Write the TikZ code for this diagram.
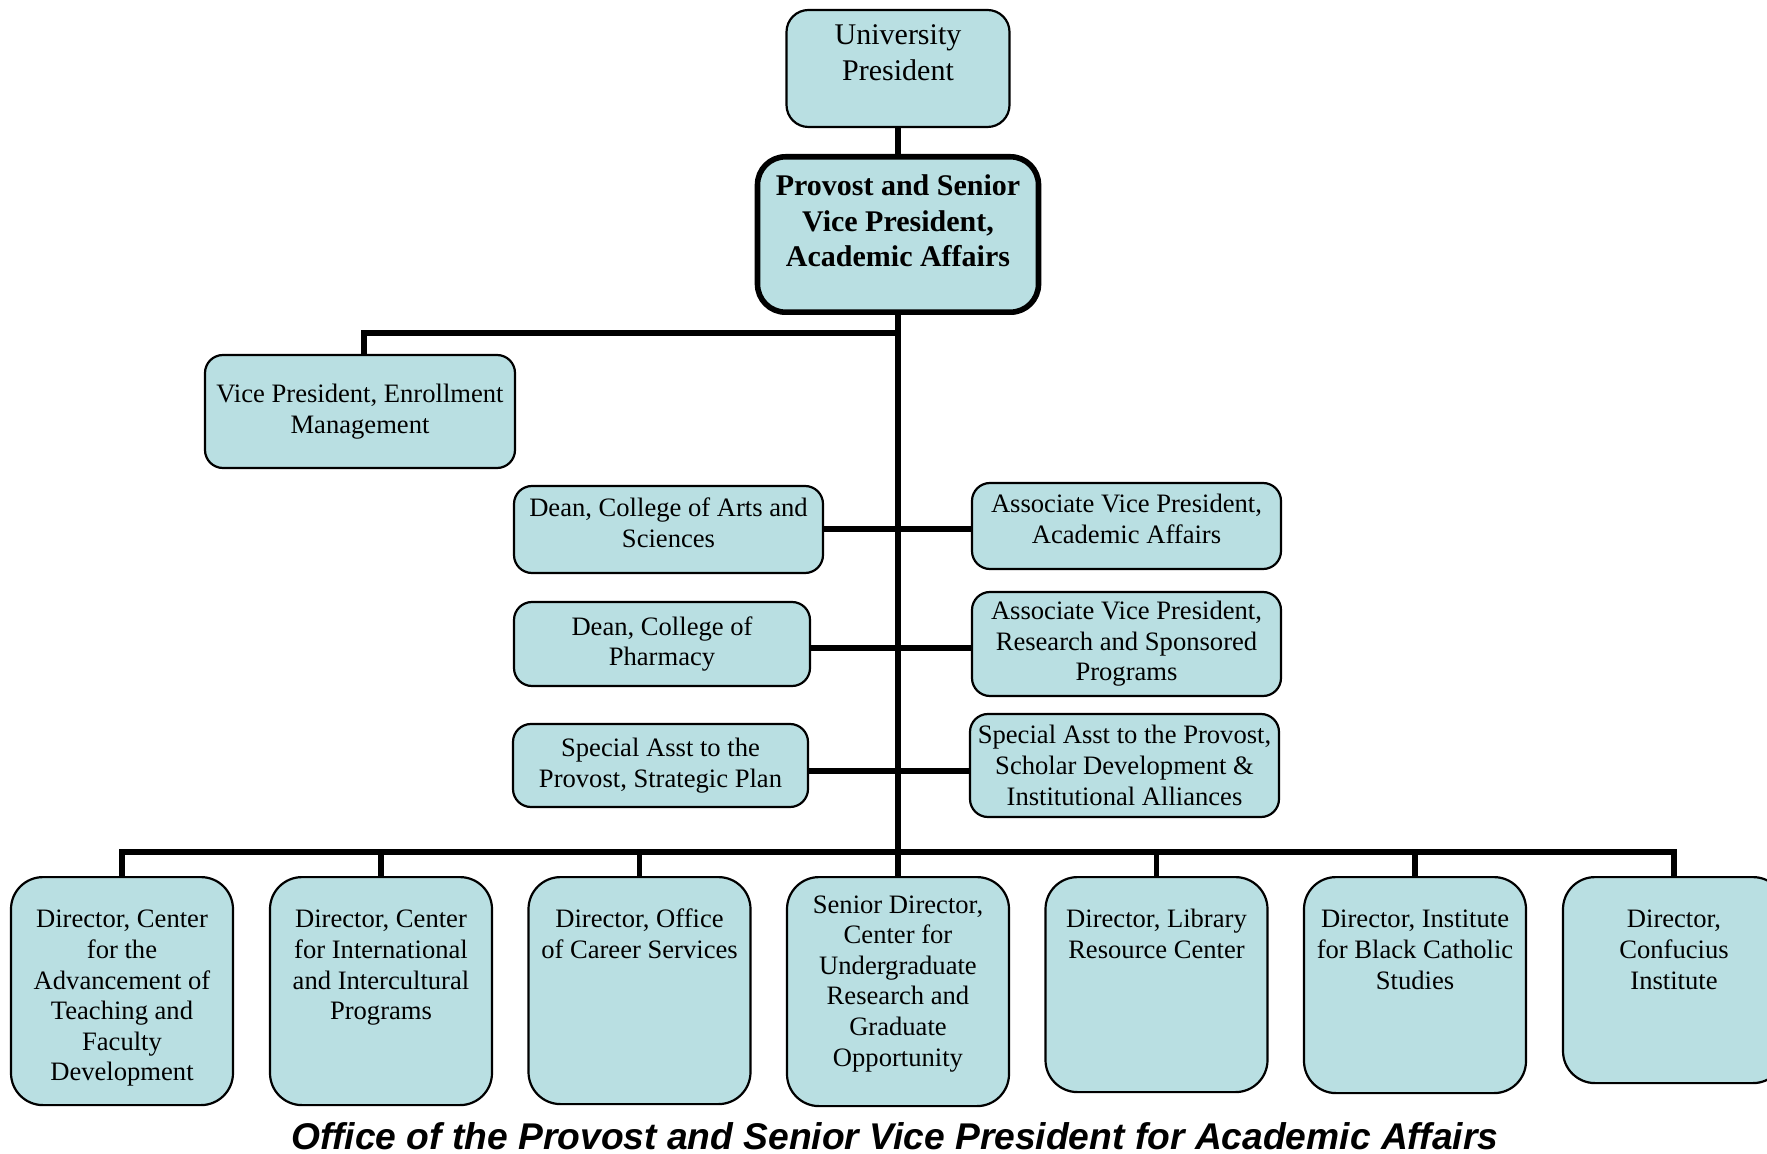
\documentclass[tikz,border=0pt]{standalone}
\usepackage{fontspec}
\setmainfont{Liberation Serif}
\newfontfamily\titlefont{Liberation Sans}
\definecolor{boxfill}{RGB}{185,223,226}
\newcommand{\tbox}[4]{\parbox[c][#1][t]{#2}{\centering\rule{0pt}{#3}#4\par}}
\newcommand{\lift}{\rule[-7pt]{0pt}{7pt}}
\tikzset{
  unit/.style={draw=black, fill=boxfill, line width=1.1pt, inner sep=0pt},
  topbox/.style={unit, rounded corners=11pt, font=\fontsize{15}{18}\selectfont},
  provbox/.style={unit, line width=2.8pt, rounded corners=14pt, font=\bfseries\fontsize{15}{17.75}\selectfont},
  midbox/.style={unit, rounded corners=9pt, align=center, font=\fontsize{13.3}{15.3}\selectfont},
  lowbox/.style={unit, rounded corners=16pt, anchor=north, font=\fontsize{13.3}{15.3}\selectfont},
  link/.style={line width=2.9pt},
  titletext/.style={font=\titlefont\bfseries\itshape\fontsize{18.6}{22}\selectfont, anchor=base, inner sep=0pt}
}
\begin{document}
\begin{tikzpicture}[x=0.5pt, y=-0.5pt]
\useasboundingbox (0,0) rectangle (1767,1154);

% top
\node[topbox] (up) at (898,68.5) {\tbox{58.5pt}{111.5pt}{17.5pt}{University\\President}};
\node[provbox] (prov) at (898,234.5) {\tbox{77.7pt}{140.5pt}{19.5pt}{Provost and Senior\\Vice President,\\Academic Affairs}};
\node[midbox, minimum width=155pt, minimum height=56.5pt] (vpe) at (360,411.5) {Vice President, Enrollment\\Management};

% middle
\node[midbox, minimum width=154.5pt, minimum height=43.5pt] (da) at (668.5,529.5) {Dean, College of Arts and\\Sciences\lift};
\node[midbox, minimum width=154.5pt, minimum height=43pt] (avp1) at (1126.5,526) {Associate Vice President,\\Academic Affairs\lift};
\node[midbox, minimum width=148pt, minimum height=42pt] (dp) at (662,644) {Dean, College of\\Pharmacy};
\node[midbox, minimum width=154.5pt, minimum height=52pt] (avp2) at (1126.5,644) {Associate Vice President,\\Research and Sponsored\\Programs};
\node[midbox, minimum width=147.5pt, minimum height=41.5pt] (sa1) at (660.5,765.5) {Special Asst to the\\Provost, Strategic Plan};
\node[midbox, minimum width=154.5pt, minimum height=51.5pt] (sa2) at (1124.5,765.5) {Special Asst to the Provost,\\Scholar Development \&\\Institutional Alliances};

% bottom
\node[lowbox] (b1) at (122,876) {\tbox{114pt}{111pt}{25.4pt}{Director, Center\\for the\\Advancement of\\Teaching and\\Faculty\\Development}};
\node[lowbox] (b2) at (381,876) {\tbox{114pt}{111pt}{25.4pt}{Director, Center\\for International\\and Intercultural\\Programs}};
\node[lowbox] (b3) at (639.5,876) {\tbox{113.5pt}{111pt}{25.4pt}{Director, Office\\of Career Services}};
\node[lowbox] (b4) at (898,876) {\tbox{114.5pt}{111pt}{18pt}{Senior Director,\\Center for\\Undergraduate\\Research and\\Graduate\\Opportunity}};
\node[lowbox] (b5) at (1156.5,876) {\tbox{107.5pt}{111pt}{25.4pt}{Director, Library\\Resource Center}};
\node[lowbox] (b6) at (1415,876) {\tbox{108pt}{111pt}{25.4pt}{Director, Institute\\for Black Catholic\\Studies}};
\node[lowbox] (b7) at (1674,876) {\tbox{103pt}{111pt}{25.4pt}{Director,\\Confucius\\Institute}};

% connectors
\coordinate (ve) at (898,333);
\coordinate (r1) at (898,529);
\coordinate (r2) at (898,648);
\coordinate (r3) at (898,771);
\coordinate (bus) at (898,852);
\draw[link] (up.south) -- (prov.north);
\draw[link] (prov.south) -- (bus);
\draw[link] (ve) -| ([xshift=2pt]vpe.north);
\draw[link] (da.east |- r1) -- (avp1.west |- r1);
\draw[link] (dp.east |- r2) -- (avp2.west |- r2);
\draw[link] (sa1.east |- r3) -- (sa2.west |- r3);
\draw[link] (b1.north) -- (b1.north |- bus) -- (b7.north |- bus) -- (b7.north);
\foreach \i in {2,3,4,5,6} { \draw[link] (b\i.north |- bus) -- (b\i.north); }

% title
\node[titletext] (title) at (895,1149) {Office of the Provost and Senior Vice President for Academic Affairs};
\end{tikzpicture}
\end{document}
